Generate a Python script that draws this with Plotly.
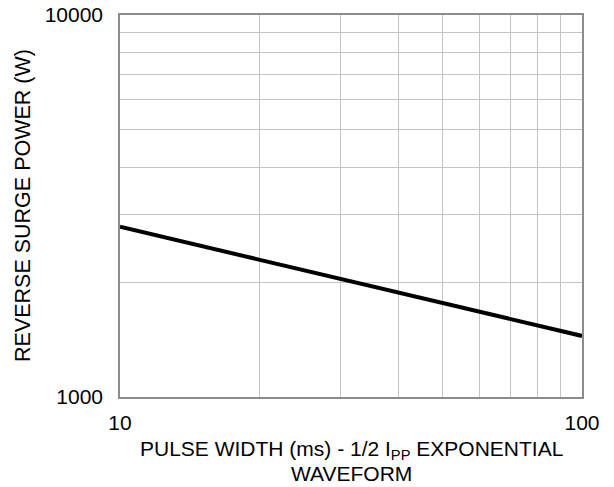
import plotly.graph_objects as go

pulse_width_ms = [10, 100]
surge_power_w = [2790, 1445]

x_major = [10, 100]
x_minor = [20, 30, 40, 50, 60, 70, 80, 90]
y_major = [1000, 10000]
y_minor = [2000, 3000, 4000, 5000, 6000, 7000, 8000, 9000]

x_title_lines = ["PULSE WIDTH (ms) - 1/2 I<sub>PP</sub> EXPONENTIAL", "WAVEFORM"]
y_title = "REVERSE SURGE POWER (W)"

FONT = "Liberation Sans, Arial"

fig = go.Figure()
fig.add_trace(go.Scatter(x=pulse_width_ms, y=surge_power_w, mode="lines",
                         line=dict(color="black", width=4), showlegend=False))

axis_common = dict(showline=True, linecolor="#8c8c8c", linewidth=1.5, mirror=True,
                   showgrid=True, gridcolor="#c4c4c4", gridwidth=1.2,
                   ticks="", zeroline=False, ticklabeloverflow="allow", automargin=False,
                   tickfont=dict(family=FONT, size=21, color="black"))

fig.update_xaxes(type="log", range=[1, 2], tickvals=x_major, ticktext=["10", "100"],
                 ticklabelstandoff=6,
                 minor=dict(tickvals=x_minor, showgrid=True, gridcolor="#c4c4c4", gridwidth=1.2, ticks=""),
                 **axis_common)
fig.update_yaxes(type="log", range=[3, 4], tickvals=y_major, ticktext=["1000", "10000"],
                 ticklabelstandoff=11,
                 minor=dict(tickvals=y_minor, showgrid=True, gridcolor="#c4c4c4", gridwidth=1.2, ticks=""),
                 **axis_common)

fig.add_annotation(text=y_title, xref="paper", yref="paper", x=0, y=0.5,
                   xanchor="center", yanchor="middle", xshift=-97, textangle=-90,
                   showarrow=False, font=dict(family=FONT, size=21.5, color="black"))

for i, txt in enumerate(x_title_lines):
    fig.add_annotation(text=txt, xref="paper", yref="paper", x=0.5, y=0,
                       xanchor="center", yanchor="middle", yshift=-53 - 23 * i,
                       showarrow=False, font=dict(family=FONT, size=21, color="black"))

fig.update_layout(width=614, height=487, margin=dict(l=120, r=32, t=15, b=90),
                  plot_bgcolor="white", paper_bgcolor="white")

fig.write_html("out.html", config={"displayModeBar": False},
               post_script="document.body.style.margin='0';")
